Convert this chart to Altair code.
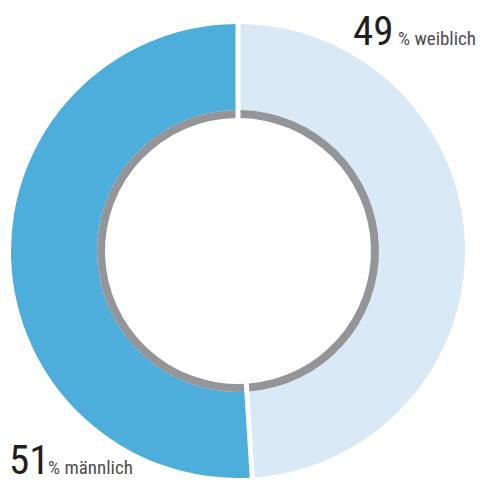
import altair as alt
import pandas as pd

categories = ["weiblich", "männlich"]
values = [49, 51]
order = [0, 1]
colors = ["#d9e9f5", "#4daedb"]

df = pd.DataFrame({"cat": categories, "val": values, "ord": order})

FONT = "Roboto Condensed, Liberation Sans Narrow, DejaVu Sans Condensed, Roboto, sans-serif"

cx, cy = 230, 243

base = alt.Chart(df).encode(
    theta=alt.Theta("val:Q", stack=True),
    order=alt.Order("ord:Q"),
    x=alt.value(cx),
    y=alt.value(cy),
)

outer = base.mark_arc(radius=227, radius2=141, padAngle=5 / 267.0).encode(
    color=alt.Color("cat:N", scale=alt.Scale(domain=categories, range=colors), legend=None)
)
inner = base.mark_arc(radius=141, radius2=133, padAngle=5 / 193.8, color="#939598")

lab = pd.DataFrame({
    "num": ["49", "51"],
    "txt": ["% weiblich", "% männlich"],
})

num49 = alt.Chart(lab.iloc[[0]]).mark_text(
    font=FONT, fontSize=41, color="#231f20", align="left", baseline="alphabetic"
).encode(text="num:N", x=alt.value(345), y=alt.value(37))
txt49 = alt.Chart(lab.iloc[[0]]).mark_text(
    font=FONT, fontSize=19, color="#4d4d4f", align="left", baseline="alphabetic"
).encode(text="txt:N", x=alt.value(390), y=alt.value(37))
num51 = alt.Chart(lab.iloc[[1]]).mark_text(
    font=FONT, fontSize=41, color="#231f20", align="left", baseline="alphabetic"
).encode(text="num:N", x=alt.value(1), y=alt.value(466))
txt51 = alt.Chart(lab.iloc[[1]]).mark_text(
    font=FONT, fontSize=19, color="#4d4d4f", align="left", baseline="alphabetic"
).encode(text="txt:N", x=alt.value(40), y=alt.value(466))

chart = alt.layer(outer, inner, num49, txt49, num51, txt51).properties(
    width=469, height=476, padding=0, autosize="none"
).configure_view(stroke=None)

chart.save("out.html", embed_options={"renderer": "svg", "actions": False})
